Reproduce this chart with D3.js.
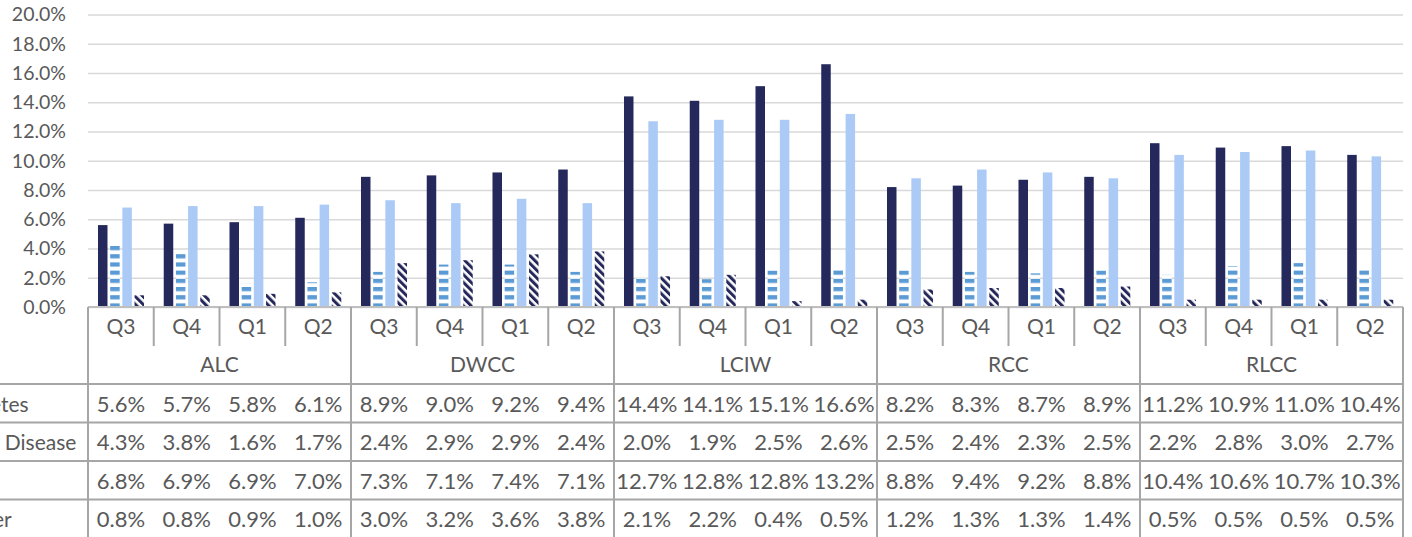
<!DOCTYPE html>
<html><head><meta charset="utf-8">
<script src="https://cdn.jsdelivr.net/npm/d3@7"></script>
<style>
html,body{margin:0;padding:0;background:#fff;}
svg{display:block;font-family:Lato,"Open Sans",sans-serif;}
</style></head>
<body><svg id="c" width="1412" height="537"></svg>
<script>
const groups = ["ALC","DWCC","LCIW","RCC","RLCC"];
const quarters = ["Q3","Q4","Q1","Q2"];
const seriesNames = ["Diabetes","Heart Disease","CKD","Cancer"];
const diabetes = [5.6,5.7,5.8,6.1, 8.9,9.0,9.2,9.4, 14.4,14.1,15.1,16.6, 8.2,8.3,8.7,8.9, 11.2,10.9,11.0,10.4];
const heart    = [4.3,3.8,1.6,1.7, 2.4,2.9,2.9,2.4, 2.0,1.9,2.5,2.6, 2.5,2.4,2.3,2.5, 2.2,2.8,3.0,2.7];
const ckd      = [6.8,6.9,6.9,7.0, 7.3,7.1,7.4,7.1, 12.7,12.8,12.8,13.2, 8.8,9.4,9.2,8.8, 10.4,10.6,10.7,10.3];
const cancer   = [0.8,0.8,0.9,1.0, 3.0,3.2,3.6,3.8, 2.1,2.2,0.4,0.5, 1.2,1.3,1.3,1.4, 0.5,0.5,0.5,0.5];
const yTicks = [0,2,4,6,8,10,12,14,16,18,20];

const seriesValues = [diabetes, heart, ckd, cancer];
const fills = ["#25285a","url(#stripeH)","#abcaf6","url(#hatch)"];

const svg = d3.select("#c");
const L = 88, R = 1403, Y0 = 307, YT = 14.5;
const tableTop = 384, rowH = 38.5;
const catKeys = [];
groups.forEach(g => quarters.forEach(q => catKeys.push(g + "|" + q)));

const x0 = d3.scaleBand().domain(catKeys).range([L, R]).padding(0);
const cw = x0.bandwidth();
const x1 = d3.scaleBand().domain(seriesNames).range([cw*0.152, cw*0.852]).paddingInner(0.22);
const y = d3.scaleLinear().domain([0, 20]).range([Y0, YT]);

// patterns
const defs = svg.append("defs");
const p1 = defs.append("pattern").attr("id","stripeH").attr("patternUnits","userSpaceOnUse")
  .attr("width",8).attr("height",8.2);
p1.append("rect").attr("width",8).attr("height",8.2).attr("fill","#fff");
p1.append("rect").attr("x",0).attr("y",0).attr("width",8).attr("height",4.2).attr("fill","#5b9bd5");
const p2 = defs.append("pattern").attr("id","hatch").attr("patternUnits","userSpaceOnUse")
  .attr("width",5.5).attr("height",5.5).attr("patternTransform","rotate(-45)");
p2.append("rect").attr("width",5.5).attr("height",5.5).attr("fill","#fff");
p2.append("rect").attr("x",0).attr("y",0).attr("width",3).attr("height",5.5).attr("fill","#25285a");

// y axis with gridlines
const yAxis = d3.axisLeft(y).tickValues(yTicks).tickSize(-(R - L)).tickPadding(22)
  .tickFormat(d => d.toFixed(1) + "%");
const gy = svg.append("g").attr("transform", `translate(${L},0)`).call(yAxis);
gy.select(".domain").remove();
gy.selectAll(".tick line").attr("stroke","#d9d9d9").attr("stroke-width",1.5);
gy.selectAll(".tick text").attr("fill","#595959").style("font-size","19.5px").style("font-family","Lato");

// bars
seriesNames.forEach((s, si) => {
  svg.append("g").selectAll("rect").data(seriesValues[si]).join("rect")
    .attr("x", (d, i) => x0(catKeys[i]) + x1(s))
    .attr("width", x1.bandwidth())
    .attr("y", d => y(d))
    .attr("height", d => Y0 - y(d))
    .attr("fill", fills[si]);
});

// category axis
const lineCol = "#a6a6a6";
const gx = svg.append("g").attr("transform", `translate(0,${Y0})`)
  .call(d3.axisBottom(x0).tickSize(0).tickPadding(12).tickFormat(d => d.split("|")[1]));
gx.select(".domain").remove();
gx.selectAll(".tick text").attr("fill","#595959").style("font-size","21px").style("font-family","Lato");

svg.append("line").attr("x1",L).attr("x2",R).attr("y1",Y0).attr("y2",Y0)
  .attr("stroke","#bfbfbf").attr("stroke-width",2);

// quarter separators
catKeys.forEach((k, i) => {
  const xx = x0(k);
  const isGroup = i % 4 === 0;
  svg.append("line").attr("x1",xx).attr("x2",xx).attr("y1",Y0)
    .attr("y2", isGroup ? 537 : 346).attr("stroke",lineCol).attr("stroke-width",2);
});
svg.append("line").attr("x1",R).attr("x2",R).attr("y1",Y0).attr("y2",537)
  .attr("stroke",lineCol).attr("stroke-width",2);

// group labels
groups.forEach((g, gi) => {
  const xs = x0(g + "|" + quarters[0]);
  svg.append("text").attr("x", xs + cw*2).attr("y", 365).attr("dy","0.35em")
    .attr("text-anchor","middle").attr("fill","#595959")
    .style("font-size","21px").text(g);
});

// data table
for (let r = 0; r <= 4; r++) {
  const yy = tableTop + r * rowH;
  svg.append("line").attr("x1",0).attr("x2",R).attr("y1",yy).attr("y2",yy)
    .attr("stroke",lineCol).attr("stroke-width",2);
}
seriesNames.forEach((s, si) => {
  const cy = tableTop + si * rowH + rowH / 2 + 1;
  svg.append("text").attr("x", -53).attr("y", cy).attr("dy","0.35em")
    .attr("fill","#595959").style("font-size","21px").text(s);
  svg.append("g").selectAll("text").data(seriesValues[si]).join("text")
    .attr("x", (d, i) => x0(catKeys[i]) + cw / 2)
    .attr("y", cy).attr("dy","0.35em").attr("text-anchor","middle")
    .attr("fill","#595959").style("font-size","22px")
    .text(d => d.toFixed(1) + "%");
});
</script></body></html>
